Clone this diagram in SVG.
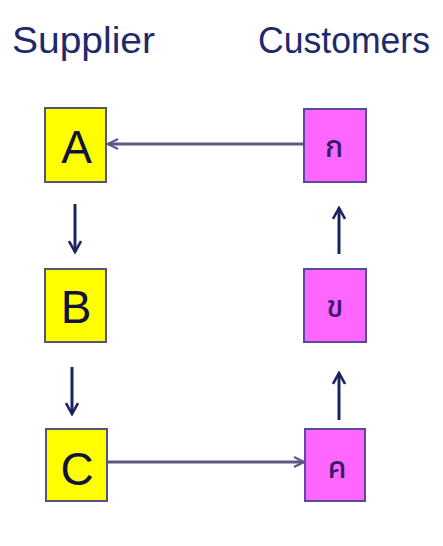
<svg xmlns="http://www.w3.org/2000/svg" width="443" height="546" viewBox="0 0 443 546">
<defs>
<style>
.title{font-family:"Liberation Sans",Arial,sans-serif;font-size:36px;fill:#1f2a6a}
.sup rect{fill:#ffff00;stroke:#55557a;stroke-width:2}
.cus rect{fill:#ff66ff;stroke:#5a4a9a;stroke-width:2}
.lat{font-family:"Liberation Sans",Arial,sans-serif;font-size:46px;fill:#10143a;text-anchor:middle}
.th{font-family:"Noto Sans Thai","Noto Sans","DejaVu Sans",sans-serif;font-size:30px;font-weight:500;fill:#3a1a6a;text-anchor:middle}
.h{stroke:#5a5888;stroke-width:3;fill:none}
.v{stroke:#1a2560;stroke-width:3;fill:none}
</style>
<marker id="ah" viewBox="0 0 12 12" refX="11" refY="6" markerWidth="12" markerHeight="12" markerUnits="userSpaceOnUse" orient="auto">
<path d="M1,1 L11,6 L1,11" fill="none" stroke="#5a5888" stroke-width="2.2"/>
</marker>
<marker id="av" viewBox="0 0 14 14" refX="12" refY="7" markerWidth="14" markerHeight="14" markerUnits="userSpaceOnUse" orient="auto">
<path d="M1,1 L12,7 L1,13" fill="none" stroke="#1a2560" stroke-width="2.6"/>
</marker>
</defs>
<rect width="443" height="546" fill="#ffffff"/>
<text class="title" x="12" y="53" textLength="143" lengthAdjust="spacingAndGlyphs">Supplier</text>
<text class="title" x="258" y="53" textLength="172" lengthAdjust="spacingAndGlyphs">Customers</text>
<g id="connectors">
<line class="h" x1="304" y1="144" x2="108" y2="144" marker-end="url(#ah)"/>
<line class="h" x1="107" y1="462" x2="304" y2="462" marker-end="url(#ah)"/>
<line class="v" x1="75" y1="204" x2="75" y2="252" marker-end="url(#av)"/>
<line class="v" x1="72" y1="367" x2="72" y2="414" marker-end="url(#av)"/>
<line class="v" x1="339" y1="420" x2="339" y2="373" marker-end="url(#av)"/>
<line class="v" x1="339" y1="254" x2="339" y2="208" marker-end="url(#av)"/>
</g>
<g id="A" class="sup"><rect x="45" y="108" width="61" height="74"/><text class="lat" x="76.5" y="163">A</text></g>
<g id="B" class="sup"><rect x="45" y="269" width="61" height="73"/><text class="lat" x="76" y="323">B</text></g>
<g id="C" class="sup"><rect x="46" y="429" width="61" height="72"/><text class="lat" x="77" y="485">C</text></g>
<g id="k1" class="cus"><rect x="304" y="109" width="62" height="73"/><text class="th" x="334" y="157">ก</text></g>
<g id="k2" class="cus"><rect x="304" y="269" width="62" height="73"/><text class="th" x="335" y="317">ข</text></g>
<g id="k3" class="cus"><rect x="305" y="429" width="60" height="72"/><text class="th" x="337" y="478">ค</text></g>
</svg>
